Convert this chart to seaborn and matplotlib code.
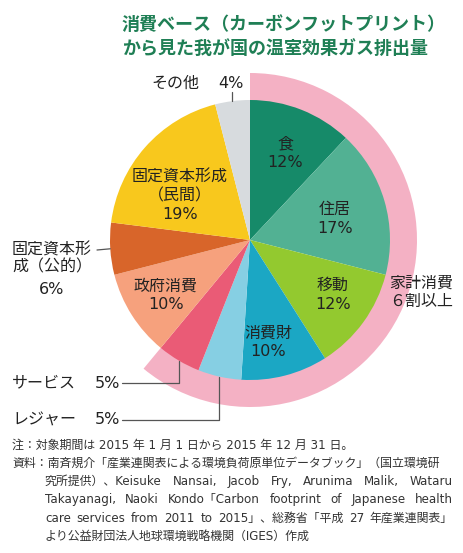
import numpy as np
import matplotlib
matplotlib.use("Agg")
import matplotlib.pyplot as plt
import seaborn as sns

# --- data -------------------------------------------------------------
labels = ["食", "住居", "移動", "消費財", "レジャー", "サービス",
          "政府消費", "固定資本形成（公的）", "固定資本形成（民間）", "その他"]
shares = [12, 17, 12, 10, 5, 5, 10, 6, 19, 4]
household = [True, True, True, True, True, True, False, False, False, False]
colors = ["#168a69", "#52b193", "#93c92f", "#1ba7c4", "#86cfe3",
          "#ea5b76", "#f6a17d", "#d8652a", "#f8c81d", "#d7dbde"]
ring_color = "#f4b1c4"

title_lines = ["消費ベース（カーボンフットプリント）", "から見た我が国の温室効果ガス排出量"]
# (text, left x, justify to right margin?)
notes = [
    ("注：対象期間は 2015 年 1 月 1 日から 2015 年 12 月 31 日。", 12, False),
    ("資料：南斉規介「産業連関表による環境負荷原単位データブック」（国立環境研", 12, False),
    ("究所提供）、Keisuke Nansai, Jacob Fry, Arunima Malik, Wataru", 45, True),
    ("Takayanagi, Naoki Kondo「Carbon footprint of Japanese health", 45, True),
    ("care services from 2011 to 2015」、総務省「平成 27 年産業連関表」", 45, True),
    ("より公益財団法人地球環境戦略機関（IGES）作成", 45, False),
]

# --- layout (pixel space, y measured from top) -----------------------
W, H = 464, 553
cx, cy, R = 250, 240, 140
ring_w = 27
right_margin = 453

sns.set_style("white")
plt.rcParams["font.family"] = ["DejaVu Sans", "Noto Sans CJK JP"]

fig = plt.figure(figsize=(W / 100, H / 100), dpi=100)
ax = fig.add_axes([0, 0, 1, 1])


def Y(y):
    return H - y


# pink ring behind the household wedges
hh_total = sum(s for s, h in zip(shares, household) if h)
ax.pie([hh_total, 100 - hh_total], radius=R + ring_w, center=(cx, Y(cy)),
       colors=[ring_color, "none"], startangle=90, counterclock=False,
       wedgeprops=dict(width=ring_w + 1, linewidth=0), frame=True)

wedges, _ = ax.pie(shares, radius=R, center=(cx, Y(cy)), colors=colors,
                   startangle=90, counterclock=False,
                   wedgeprops=dict(linewidth=0), frame=True)
ax.set_xlim(0, W)
ax.set_ylim(0, H)
ax.set_aspect("equal")
ax.axis("off")


def edge_point(i, r=R):
    w = wedges[i]
    a = np.deg2rad((w.theta1 + w.theta2) / 2)
    return cx + r * np.cos(a), Y(cy) + r * np.sin(a)


dark = "#222222"
txt = dict(fontsize=11.5, color=dark, ha="center", va="center", linespacing=1.3)
left = dict(fontsize=11.5, color=dark, ha="left", va="center")
line_kw = dict(color="#555555", lw=0.9)

# labels inside the pie
ax.text(285, Y(153), "食\n12%", **txt)
ax.text(335, Y(219), "住居\n17%", **txt)
ax.text(333, Y(295), "移動\n12%", **txt)
ax.text(268, Y(342), "消費財\n10%", **txt)
ax.text(166, Y(295), "政府消費\n10%", **txt)
ax.text(180, Y(196), "固定資本形成\n（民間）\n19%", **txt)

# labels outside
ax.text(421, Y(292), "家計消費\n６割以上", **txt)
ax.text(175, Y(83), "その他", **txt)
ax.text(231, Y(83), "4%", **txt)
ex, ey = edge_point(9)
ax.plot([ex, ex], [Y(92), ey], **line_kw)

ax.text(12, Y(250), "固定資本形", **left)
ax.text(12, Y(267), "成（公的）", **left)
ax.text(52, Y(290), "6%", **txt)
ex, ey = edge_point(7)
ax.plot([97, ex], [Y(250), ey], **line_kw)

ax.text(12, Y(383), "サービス", **left)
ax.text(95, Y(383), "5%", **left)
ex, ey = edge_point(5)
ax.plot([122, ex, ex], [Y(383), Y(383), ey], **line_kw)

ax.text(12, Y(420), "レジャー", **left)
ax.text(95, Y(420), "5%", **left)
ex, ey = edge_point(4)
ax.plot([122, ex, ex], [Y(420), Y(420), ey], **line_kw)

# title
for i, line in enumerate(title_lines):
    ax.text(122, Y(25 + 25 * i), line, fontsize=13, fontweight="bold",
            color="#1f7f55", ha="left", va="center")

# footnotes (justified lines are laid out word by word)
renderer = fig.canvas.get_renderer()
note_kw = dict(fontsize=8.6, color="#333333", ha="left", va="center")
for i, (line, x, justify) in enumerate(notes):
    y = Y(445 + 18.3 * i)
    if not justify:
        ax.text(x, y, line, **note_kw)
        continue
    words = line.split(" ")
    items = [ax.text(x, y, w, **note_kw) for w in words]
    widths = [t.get_window_extent(renderer).width for t in items]
    gap = (right_margin - x - sum(widths)) / (len(words) - 1)
    pos = x
    for t, wd in zip(items, widths):
        t.set_x(pos)
        pos += wd + gap

fig.savefig("out.png", dpi=100)
